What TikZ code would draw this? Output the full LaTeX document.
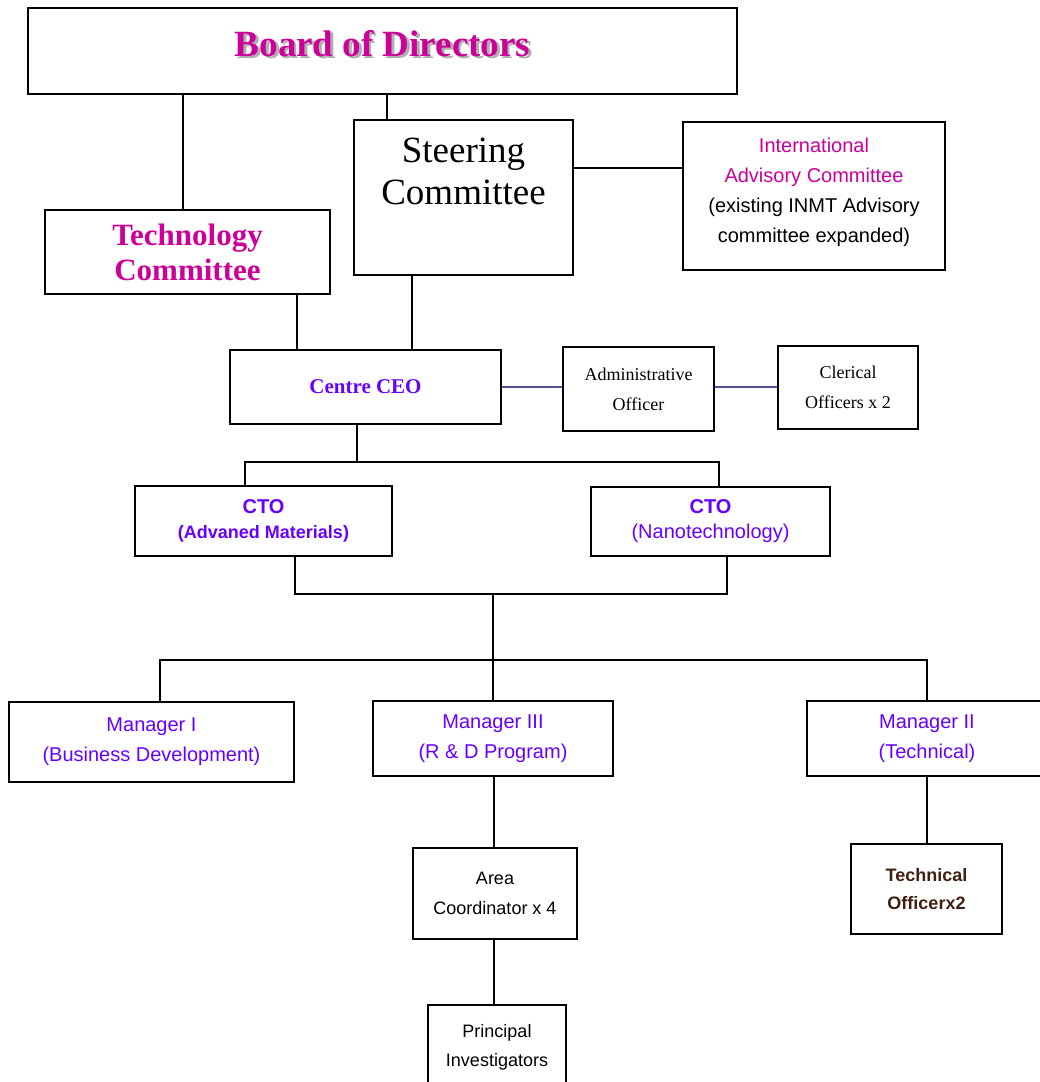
\documentclass[tikz,border=0pt]{standalone}
\usepackage{fontspec}
\setmainfont{Liberation Serif}
\setsansfont{Liberation Sans}
\usetikzlibrary{calc}
\definecolor{boardmagenta}{RGB}{204, 0, 153}
\definecolor{ctoviolet}{RGB}{102, 0, 255}
\definecolor{officerbrown}{RGB}{64, 32, 16}
\definecolor{adminline}{RGB}{80, 80, 150}
\definecolor{shadowgray}{RGB}{175, 175, 175}
\newcommand{\shadowtxt}[1]{\makebox[0pt][l]{\hspace{2.5pt}\raisebox{-2.5pt}{\color{shadowgray}#1}}#1}
\tikzset{
    box/.style={
        rectangle, draw=black, line width=1.6pt, fill=white,
        align=center, inner sep=2pt
    },
    serifbox/.style={box, font=\fontsize{18}{30}\selectfont},
    sansbox/.style={box, font=\sffamily\fontsize{20}{30}\selectfont},
    ctobox/.style={box, text=ctoviolet, font=\sffamily\fontsize{20}{25}\selectfont},
    mgrbox/.style={sansbox, text=ctoviolet},
    line/.style={draw=black, line width=1.6pt},
    blueline/.style={draw=adminline, line width=1.6pt},
}

\begin{document}
\begin{tikzpicture}[x=1pt, y=-1pt]
    \useasboundingbox (0,0) rectangle (1040,1082);

    \node[box, minimum width=709, minimum height=86, text=boardmagenta, font=\bfseries\fontsize{37}{40}\selectfont, text depth=16pt] (board) at (382.5,51) {\shadowtxt{Board of Directors}};
    \node[box, minimum width=285, minimum height=84, text=boardmagenta, font=\bfseries\fontsize{31}{35}\selectfont] (techcom) at (187.5,252) {Technology\\Committee};
    \node[box, minimum width=219, minimum height=155, font=\fontsize{37}{42}\selectfont, text depth=52pt] (steering) at (463.5,197.5) {Steering\\Committee};
    \node[sansbox, minimum width=262, minimum height=148, text depth=11pt] (intl) at (814,196) {\textcolor{boardmagenta}{International}\\\textcolor{boardmagenta}{Advisory Committee}\\(existing INMT Advisory\\committee expanded)};

    \node[box, minimum width=271, minimum height=74, text=ctoviolet, font=\bfseries\fontsize{21}{25}\selectfont] (ceo) at (365.5,387) {Centre CEO};
    \node[serifbox, minimum width=151, minimum height=84] (admin) at (638.5,389) {Administrative\\Officer};
    \node[serifbox, minimum width=140, minimum height=83] (clerical) at (848,387.5) {Clerical\\Officers x 2};

    \node[ctobox, minimum width=257, minimum height=70] (ctoam) at (263.5,521) {\bfseries CTO\\{\bfseries\fontsize{18}{24}\selectfont (Advaned Materials)}};
    \node[ctobox, minimum width=239, minimum height=69] (ctonano) at (710.5,521.5) {\bfseries CTO\\(Nanotechnology)};

    \node[mgrbox, minimum width=285, minimum height=80] (mgrone) at (151.5,742) {Manager I\\(Business Development)};
    \node[mgrbox, minimum width=240, minimum height=75] (mgrthree) at (493,738.5) {Manager III\\(R \& D Program)};
    \node[mgrbox, minimum width=240, minimum height=75] (mgrtwo) at (927,738.5) {Manager II\\(Technical)};

    \node[box, minimum width=151, minimum height=90, text=officerbrown, font=\sffamily\bfseries\fontsize{18}{28}\selectfont] (techoff) at (926.5,889) {Technical\\Officerx2};
    \node[sansbox, minimum width=164, minimum height=91, font=\sffamily\fontsize{18}{30}\selectfont] (area) at (495,893.5) {Area\\Coordinator x 4};
    \node[sansbox, minimum width=138, minimum height=85, font=\sffamily\fontsize{18}{29}\selectfont] (pi) at (497,1047.5) {Principal\\Investigators};

    \coordinate (ctobus) at (357,462);
    \coordinate (mgrtop) at (493,594);
    \coordinate (mgrbus) at (493,660);

    \draw[line] ([xshift=-4.5pt]techcom.north) -- ([xshift=-4.5pt]techcom.north |- board.south);
    \draw[line] ([xshift=4.5pt]board.south) -- ([xshift=4.5pt]board.south |- steering.north);
    \draw[line] ([yshift=29.5pt]steering.east) -- ([yshift=29.5pt]steering.east -| intl.west);
    \draw[line] ([xshift=-68.5pt]ceo.north) -- ([xshift=-68.5pt]ceo.north |- techcom.south);
    \draw[line] ([xshift=46.5pt]ceo.north) -- ([xshift=46.5pt]ceo.north |- steering.south);
    \draw[blueline] (ceo.east) -- (ceo.east -| admin.west);
    \draw[blueline] ([yshift=2pt]admin.east) -- ([yshift=2pt]admin.east -| clerical.west);

    \draw[line] (ceo.south -| ctobus) -- (ctobus);
    \draw[line] ([xshift=-18.5pt]ctoam.north) |- (ctobus) -| ([xshift=8.5pt]ctonano.north);
    \draw[line] ([xshift=31.5pt]ctoam.south) |- (mgrtop) -| ([xshift=16.5pt]ctonano.south);
    \draw[line] (mgrtop) -- (mgrbus);
    \draw[line] ([xshift=8.5pt]mgrone.north) |- (mgrbus) -| (mgrtwo.north);
    \draw[line] (mgrbus) -- (mgrthree.north);

    \draw[line] ([xshift=1pt]mgrthree.south) -- ([xshift=1pt]mgrthree.south |- area.north);
    \draw[line] ([xshift=1pt]mgrthree.south |- area.south) -- ([xshift=1pt]mgrthree.south |- pi.north);
    \draw[line] (mgrtwo.south) -- (mgrtwo.south |- techoff.north);
\end{tikzpicture}
\end{document}
